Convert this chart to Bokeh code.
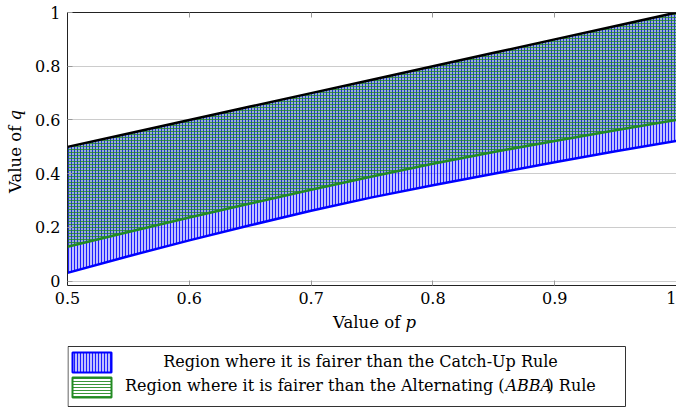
import math
from bokeh.plotting import figure
from bokeh.models import Range1d, FixedTicker, CustomJSTickFormatter, LinearAxis, ColumnDataSource
from bokeh.layouts import column, row
from bokeh.core.properties import value
from bokeh.embed import file_html
from bokeh.resources import INLINE

# ---------------- data ----------------
P = [0.5, 0.55, 0.6, 0.65, 0.7, 0.75, 0.8, 0.85, 0.9, 0.95, 1.0]
Q_DIAGONAL = [0.5, 0.55, 0.6, 0.65, 0.7, 0.75, 0.8, 0.85, 0.9, 0.95, 1.0]
Q_CATCHUP = [0.031, 0.093, 0.152, 0.208, 0.262, 0.312, 0.357, 0.400, 0.443, 0.484, 0.522]
Q_ABBA = [0.128, 0.183, 0.237, 0.289, 0.340, 0.390, 0.437, 0.481, 0.522, 0.562, 0.600]

X_TICKS = [0.5, 0.6, 0.7, 0.8, 0.9, 1.0]
X_TICK_LABELS = ["0.5", "0.6", "0.7", "0.8", "0.9", "1"]
Y_TICKS = [0.0, 0.2, 0.4, 0.6, 0.8, 1.0]
Y_TICK_LABELS = ["0", "0.2", "0.4", "0.6", "0.8", "1"]

X_LABEL = ["Value of ", "p"]
Y_LABEL = ["Value of ", "q"]
LEGEND_1 = "Region where it is fairer than the Catch-Up Rule"
LEGEND_2 = ["Region where it is fairer than the Alternating (", "ABBA", ") Rule"]

# ---------------- styles / layout (pixels) ----------------
FONT = "DejaVu Serif"
TICK_FS = "16px"
LABEL_FS = "16.5px"
LEGEND_FS = "16px"
BLUE = "#0000ff"
GREEN = "#228b22"

YL_W = 30            # strip holding the y label
MAIN_W = 646
MAIN_H = 313
FRAME_LEFT = 67      # page x of the plot frame's left edge
FRAME_TOP = 12
FRAME_BOTTOM = 285
LEG_H = 94


def fmt(vals, labels):
    return CustomJSTickFormatter(args=dict(vals=vals, labels=labels), code="""
const i = vals.findIndex(v => Math.abs(v - tick) < 1e-9);
return i >= 0 ? labels[i] : "";
""")


# ---------------- main chart ----------------
p = figure(width=MAIN_W, height=MAIN_H, output_backend="svg", toolbar_location=None,
           x_range=Range1d(0.5, 1.0), y_range=Range1d(-0.016, 1.0),
           min_border_left=FRAME_LEFT - YL_W, min_border_right=0,
           min_border_top=FRAME_TOP, min_border_bottom=MAIN_H - FRAME_BOTTOM)
p.outline_line_color = None
p.background_fill_color = "white"
p.border_fill_color = "white"

bottom_ax = p.below[0]
left_ax = p.left[0]
yt = FixedTicker(ticks=Y_TICKS)
bottom_ax.ticker = FixedTicker(ticks=X_TICKS)
left_ax.ticker = yt
bottom_ax.formatter = fmt(X_TICKS, X_TICK_LABELS)
left_ax.formatter = fmt(Y_TICKS, Y_TICK_LABELS)

top_ax = LinearAxis(ticker=FixedTicker(ticks=X_TICKS), formatter=fmt(X_TICKS, [""] * len(X_TICKS)))
p.add_layout(top_ax, "above")

for ax in (bottom_ax, left_ax, top_ax):
    ax.axis_line_color = "#222222"
    ax.axis_line_width = 1
    ax.major_tick_in = 5
    ax.major_tick_out = 0
    ax.major_tick_line_color = "#999999"
    ax.minor_tick_line_color = None
    ax.major_label_text_font = FONT
    ax.major_label_text_font_size = TICK_FS
    ax.major_label_text_color = "black"
bottom_ax.major_label_standoff = 6
left_ax.major_label_standoff = 7
top_ax.major_label_text_font_size = "0px"
top_ax.major_label_standoff = 0

p.xgrid.visible = False
p.ygrid.ticker = yt
p.ygrid.grid_line_color = "#cccccc"
p.ygrid.grid_line_width = 1

src = ColumnDataSource(dict(p=P, diag=Q_DIAGONAL, catchup=Q_CATCHUP, abba=Q_ABBA))

p.varea(x="p", y1="catchup", y2="diag", source=src,
        fill_color=BLUE, fill_alpha=0.25,
        hatch_pattern="|", hatch_color=BLUE, hatch_alpha=0.85, hatch_scale=3, hatch_weight=1)
p.varea(x="p", y1="abba", y2="diag", source=src,
        fill_color=GREEN, fill_alpha=0.22,
        hatch_pattern="-", hatch_color=GREEN, hatch_alpha=0.8, hatch_scale=3, hatch_weight=1)
p.line("p", "catchup", source=src, line_color=BLUE, line_width=2.5)
p.line("p", "abba", source=src, line_color=GREEN, line_width=2.5)
p.line("p", "diag", source=src, line_color="black", line_width=2.5)

# ---------------- y label strip (page pixel coordinates) ----------------
yl = figure(width=YL_W, height=MAIN_H, output_backend="svg", toolbar_location=None,
            x_range=Range1d(0, YL_W), y_range=Range1d(FRAME_BOTTOM, FRAME_TOP),
            x_axis_location=None, y_axis_location=None,
            min_border_left=0, min_border_right=0,
            min_border_top=FRAME_TOP, min_border_bottom=MAIN_H - FRAME_BOTTOM)
yl.outline_line_color = None
yl.xgrid.visible = False
yl.ygrid.visible = False
yl.text(x=[15], y=[120], text=[Y_LABEL[0]], angle=math.pi / 2, text_align="right",
        text_baseline="middle", text_font=value(FONT), text_font_size=LABEL_FS, text_color="black")
yl.text(x=[15], y=[120], text=[Y_LABEL[1]], angle=math.pi / 2, text_align="left",
        text_baseline="middle", text_font=value(FONT), text_font_size=LABEL_FS,
        text_font_style="italic", text_color="black")

# ---------------- lower panel: x label + legend (page pixel coordinates) ----------------
leg = figure(width=MAIN_W, height=LEG_H, output_backend="svg", toolbar_location=None,
             x_range=Range1d(FRAME_LEFT, YL_W + MAIN_W), y_range=Range1d(MAIN_H + LEG_H, MAIN_H),
             x_axis_location=None, y_axis_location=None,
             min_border_left=FRAME_LEFT - YL_W, min_border_right=0,
             min_border_top=0, min_border_bottom=0)
leg.outline_line_color = None
leg.xgrid.visible = False
leg.ygrid.visible = False

leg.text(x=[405], y=[322], text=[X_LABEL[0]], text_align="right", text_baseline="middle",
         text_font=value(FONT), text_font_size=LABEL_FS, text_color="black")
leg.text(x=[405], y=[322], text=[X_LABEL[1]], text_align="left", text_baseline="middle",
         text_font=value(FONT), text_font_size=LABEL_FS, text_font_style="italic", text_color="black")

leg.quad(left=[67.5], right=[625], top=[346], bottom=[406], fill_color="white",
         line_color="#333333", line_width=1)
leg.quad(left=[72], right=[111], top=[352], bottom=[372],
         fill_color=BLUE, fill_alpha=0.25, hatch_pattern="|", hatch_color=BLUE,
         hatch_alpha=0.85, hatch_scale=3, hatch_weight=1, line_color=BLUE, line_width=2)
leg.quad(left=[72], right=[111], top=[377], bottom=[397],
         fill_color="white", hatch_pattern="-", hatch_color=GREEN,
         hatch_alpha=0.9, hatch_scale=3, hatch_weight=1, line_color=GREEN, line_width=2)

leg.text(x=[360], y=[361], text=[LEGEND_1], text_align="center", text_baseline="middle",
         text_font=value(FONT), text_font_size=LEGEND_FS, text_color="black")
leg.text(x=[504], y=[385], text=[LEGEND_2[0]], text_align="right", text_baseline="middle",
         text_font=value(FONT), text_font_size=LEGEND_FS, text_color="black")
leg.text(x=[505], y=[385], text=[LEGEND_2[1]], text_align="left", text_baseline="middle",
         text_font=value(FONT), text_font_size=LEGEND_FS, text_font_style="italic", text_color="black")
leg.text(x=[547], y=[385], text=[LEGEND_2[2]], text_align="left", text_baseline="middle",
         text_font=value(FONT), text_font_size=LEGEND_FS, text_color="black")

layout = row(yl, column(p, leg, spacing=0), spacing=0)
open("out.html", "w").write(file_html(layout, INLINE))
